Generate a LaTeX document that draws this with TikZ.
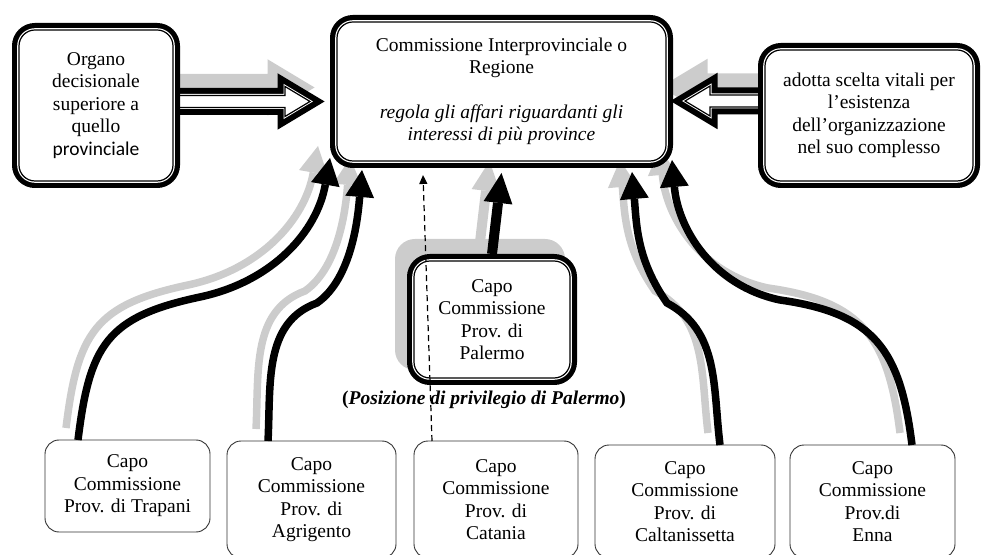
\documentclass[tikz,border=0pt]{standalone}
\usepackage{fontspec}
\setmainfont{Liberation Serif}
\newfontfamily\calib{Carlito}
\usepackage{tikz}
\usetikzlibrary{arrows.meta,backgrounds}
\newcommand\boxfont{\fontsize{19.5}{22.5}\selectfont}

\begin{document}
\begin{tikzpicture}[x=1pt,y=1pt,
  dbox/.style={rounded corners=16, align=center, font=\boxfont, inner sep=0, outer sep=0,
    preaction={draw=black,line width=14pt}, preaction={draw=white,line width=3.6pt},
    fill=white, draw=black, line width=1.2pt},
  pbox/.style={rounded corners=14, align=center, font=\boxfont, inner sep=0, outer sep=0,
    fill=white, draw=black!80, line width=0.9pt},
  hollow/.style={line join=miter, preaction={draw=black,line width=15pt},
    preaction={draw=white,line width=3pt}, fill=white, draw=black, line width=1.2pt},
  hshade/.style={line join=miter, fill=gray!40, draw=gray!40, line width=15pt},
  curv/.style={line width=7.5pt, -{Triangle[length=27pt,width=29pt,line width=0pt]}},
  palarr/.style={line width=10pt, -{Triangle[length=30pt,width=29pt,line width=0pt]}},
  shade/.style={draw=gray!40}]
\useasboundingbox (0,0) rectangle (981,554);
\clip (0,0) rectangle (981,554);

% upper level
\node [dbox, minimum width=154, minimum height=151] (org) at (96,448.5)
  {Organo\\ decisionale\\ superiore a\\ quello\\ {\calib provinciale}};
\node [dbox, minimum width=329, minimum height=139] (reg) at (501.5,462.5)
  {Commissione Interprovinciale o\\ Regione\\[22pt]
   \textit{regola gli affari riguardanti gli}\\ \textit{interessi di più province}};
\node [dbox, minimum width=208, minimum height=131] (vit) at (869,438.5)
  {adotta scelta vitali per\\ l'esistenza\\ dell'organizzazione\\ nel suo complesso};
\node [dbox, minimum width=156, minimum height=117] (pal) at (492,234.5)
  {Capo\\ Commissione\\ Prov. di\\ Palermo};
\node [font=\boxfont\bfseries] (priv) at (484,154)
  {(\textit{Posizione di privilegio di Palermo})};

% provinces
\node [pbox, minimum width=165, minimum height=92] (trap) at (127.5,68)
  {Capo\\ Commissione\\ Prov. di Trapani};
\node [pbox, minimum width=169, minimum height=117] (agri) at (311.5,54.5)
  {Capo\\ Commissione\\ Prov. di\\ Agrigento};
\node [pbox, minimum width=164, minimum height=117] (cata) at (496,54.5)
  {Capo\\ Commissione\\ Prov. di\\ Catania};
\node [pbox, minimum width=180, minimum height=113] (calt) at (685,52.5)
  {Capo\\ Commissione\\ Prov. di\\ Caltanissetta};
\node [pbox, minimum width=165, minimum height=113] (enna) at (872.5,52.5)
  {Capo\\ Commissione\\ Prov.di\\ Enna};

\coordinate (tmid) at (200,257);
\coordinate (amid) at (317,251);
\coordinate (cmid) at (667,251);
\coordinate (emid) at (780,254);

\begin{scope}[on background layer]
% shadows
\fill [gray!40, rounded corners=20] ([shift={(-19,22)}]pal.north west) rectangle ([shift={(-5,8)}]pal.south east);
\draw [hshade] ([shift={(-10,18)}]org.east) ++(0,6) -- ++(112,0) -- ++(0,9) -- ++(25,-15) -- ++(-25,-15) -- ++(0,9) -- ++(-112,0) -- cycle;
\draw [hshade] ([shift={(-10,28.5)}]vit.west) ++(0,6) -- ++(-55,0) -- ++(0,9) -- ++(-25,-15) -- ++(25,-15) -- ++(0,9) -- ++(55,0) -- cycle;
\draw [curv, shade] ([shift={(-12,12)}]trap.north west) ++(33,0) to [out=83, in=192, looseness=1.3] ([shift={(-12,12)}]tmid)
  to [out=12, in=-100] ([shift={(-19,15)}]reg.south west);
\draw [curv, shade] ([shift={(-12,12)}]agri.north west) ++(41,0) to [out=87, in=200] ([shift={(-12,12)}]amid)
  to [out=35, in=-95, looseness=0.8] ([shift={(13,3)}]reg.south west);
\draw [curv, shade] ([shift={(-12,12)}]calt.north west) ++(125,0) to [out=97, in=-28] ([shift={(-12,12)}]cmid)
  to [out=125, in=-85] ([shift={(-46,1)}]reg.south east);
\draw [curv, shade] ([shift={(-12,12)}]enna.north west) ++(122,0) to [out=97, in=-8, looseness=1.25] ([shift={(-12,12)}]emid)
  to [out=168, in=-85] ([shift={(-6,13)}]reg.south east);
\draw [palarr, shade] ([shift={(-12,19)}]pal.north) -- ([shift={(-12,0)}]reg.south);
% hollow arrows
\draw [hollow] ([yshift=4]org.east) ++(0,6) -- ++(112,0) -- ++(0,9) -- ++(25,-15) -- ++(-25,-15) -- ++(0,9) -- ++(-112,0) -- cycle;
\draw [hollow] ([yshift=14.5]vit.west) ++(0,6) -- ++(-55,0) -- ++(0,9) -- ++(-25,-15) -- ++(25,-15) -- ++(0,9) -- ++(55,0) -- cycle;
\end{scope}

% links to the region
\draw [curv] ([xshift=33]trap.north west) to [out=83, in=192, looseness=1.3] (tmid)
  to [out=12, in=-100] ([shift={(-7,3)}]reg.south west);
\draw [curv] ([xshift=41]agri.north west) to [out=87, in=200] (amid)
  to [out=35, in=-95, looseness=0.8] ([shift={(25,-9)}]reg.south west);
\draw [curv] ([xshift=125]calt.north west) to [out=97, in=-28] (cmid)
  to [out=125, in=-85] ([shift={(-34,-11)}]reg.south east);
\draw [curv] ([xshift=122]enna.north west) to [out=97, in=-8, looseness=1.25] (emid)
  to [out=168, in=-85] ([shift={(6,1)}]reg.south east);
\draw [palarr] ([yshift=7]pal.north) -- ([yshift=-12]reg.south);
\draw [line width=1.2pt, dash pattern=on 6pt off 4pt, -{Triangle[length=9pt,width=8pt]}]
  ([xshift=18]cata.north west) -- ([shift={(-78.5,-14)}]reg.south);
\end{tikzpicture}
\end{document}
